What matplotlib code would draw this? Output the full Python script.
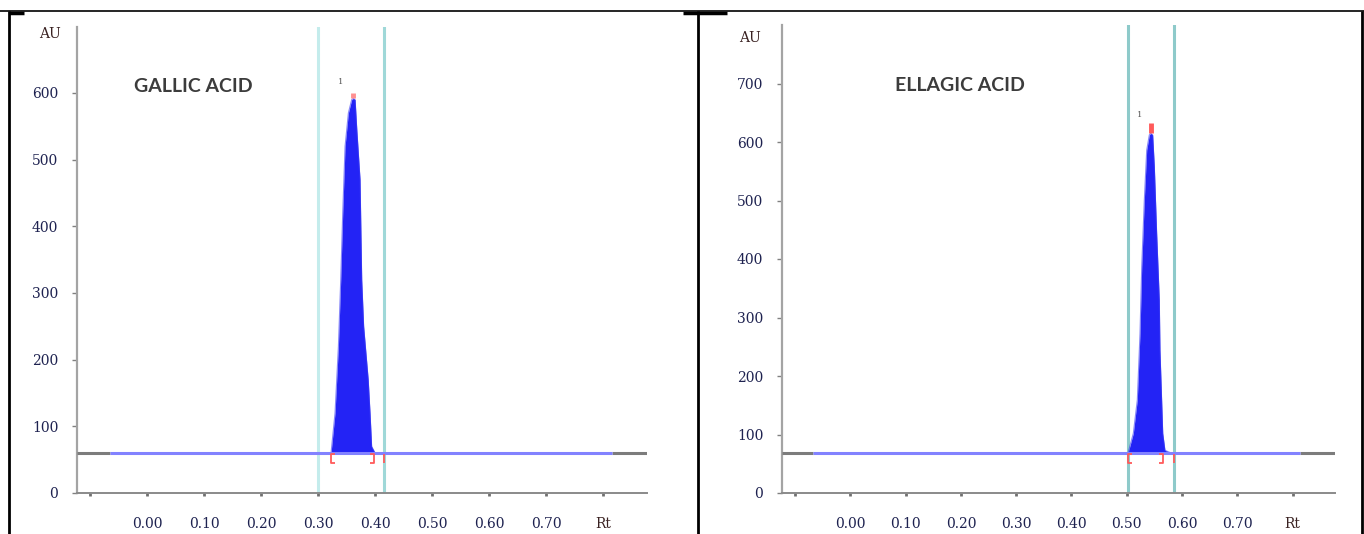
import matplotlib
matplotlib.use("Agg")
import matplotlib.pyplot as plt
from matplotlib.lines import Line2D
from matplotlib.path import Path
from matplotlib.markers import MarkerStyle

# ---------------- data ----------------
x_ticks = [-0.10, 0.00, 0.10, 0.20, 0.30, 0.40, 0.50, 0.60, 0.70, 0.80]
x_tick_labels = ["", "0.00", "0.10", "0.20", "0.30", "0.40", "0.50", "0.60", "0.70", "Rt"]

# Gallic acid
gallic_title = "GALLIC ACID"
gallic_yticks = [0, 100, 200, 300, 400, 500, 600]
gallic_baseline = 60
gallic_baseline_range = [-0.065, 0.816]
gallic_window = [0.300, 0.416]
gallic_rt = [0.3228, 0.3298, 0.3357, 0.3398, 0.3433, 0.3474, 0.3532, 0.3590,
             0.3620, 0.3650, 0.3680, 0.3737, 0.3766, 0.3800, 0.3880, 0.3912, 0.3940, 0.4000]
gallic_au = [60, 120, 220, 320, 420, 520, 570, 590,
             592, 590, 545, 470, 320, 250, 170, 120, 70, 60]
gallic_peak_top = [0.362, 592, 600]
gallic_peak_bounds = [0.3228, 0.398]

# Ellagic acid
ellagic_title = "ELLAGIC ACID"
ellagic_yticks = [0, 100, 200, 300, 400, 500, 600, 700]
ellagic_baseline = 68
ellagic_baseline_range = [-0.068, 0.813]
ellagic_window = [0.502, 0.585]
ellagic_rt = [0.5027, 0.5118, 0.5190, 0.5239, 0.5270, 0.5317, 0.5360, 0.5407,
              0.5432, 0.5468, 0.5498, 0.5540, 0.5588, 0.5600, 0.5630, 0.5650, 0.5690, 0.5810]
ellagic_au = [70, 102, 159, 273, 387, 501, 586, 612,
              615, 612, 558, 444, 330, 244, 159, 102, 73, 68]
ellagic_peak_top = [0.5432, 615, 632]
ellagic_peak_bounds = [0.5027, 0.566]

# ---------------- style ----------------
W, H = 1364, 534
fig = plt.figure(figsize=(W / 100, H / 100), dpi=100)

serif = ["DejaVu Serif"]
num_color = "#1e2250"
lab_color = "#3a2222"

bracket_l = MarkerStyle(Path([(0.45, -0.15), (0.0, -0.15), (0.0, -1.0), (0.45, -1.0)]))
bracket_r = MarkerStyle(Path([(-0.45, -0.15), (0.0, -0.15), (0.0, -1.0), (-0.45, -1.0)]))
bar_m = MarkerStyle(Path([(0.0, -0.1), (0.0, -1.0)]))


def panel(rect, xlim, ylim, yticks, baseline, brange, window, rt, au, top, bounds,
          title, title_pos, num_pos, win_colors, tip_color):
    ax = fig.add_axes(rect)
    ax.set_xlim(*xlim)
    ax.set_ylim(*ylim)
    for s in ["top", "right"]:
        ax.spines[s].set_visible(False)
    ax.spines["left"].set_color("#a4a4a4")
    ax.spines["left"].set_linewidth(1.6)
    ax.spines["bottom"].set_color("#8a8a8a")
    ax.spines["bottom"].set_linewidth(1.4)

    ax.set_yticks(yticks)
    ax.set_yticklabels([str(v) for v in yticks])
    ax.tick_params(axis="y", direction="out", length=3.5, width=1.0, color="#808080",
                   pad=10, labelsize=10, labelcolor=num_color)
    ax.set_xticks(x_ticks)
    ax.set_xticklabels(x_tick_labels)
    ax.tick_params(axis="x", direction="out", length=2.5, width=2.0, color="#707070",
                   pad=15, labelsize=10, labelcolor=num_color)
    for t in ax.get_xticklabels() + ax.get_yticklabels():
        t.set_fontfamily(serif)
    ax.get_xticklabels()[-1].set_color(lab_color)

    # integration window lines
    ax.axvline(window[0], color=win_colors[0], lw=2.2, zorder=1)
    ax.axvline(window[1], color=win_colors[1], lw=2.2, zorder=1)

    # baseline
    ax.plot([xlim[0], brange[0]], [baseline, baseline], color="#7c7c7c", lw=2.2, zorder=3,
            solid_capstyle="butt")
    ax.plot([brange[1], xlim[1]], [baseline, baseline], color="#7c7c7c", lw=2.2, zorder=3,
            solid_capstyle="butt")
    # peak
    ax.fill_between(rt, baseline, au, color="#2323f5", lw=0, zorder=2)
    ax.plot(rt, au, color="#3b3bf5", lw=0.8, alpha=0.6, zorder=2)
    ax.plot(brange, [baseline, baseline], color="#8282ff", lw=2.2, zorder=4,
            solid_capstyle="butt")
    # peak tip
    ax.plot([top[0], top[0]], [top[1], top[2]], color=tip_color, lw=3.5, zorder=5,
            solid_capstyle="butt")
    # boundary markers
    for xb, mk in ((bounds[0], bracket_l), (bounds[1], bracket_r), (window[1], bar_m)):
        ax.plot([xb], [baseline], marker=mk, ms=14, mew=1.3, mec="#ff5a5a",
                mfc="none", zorder=5, linestyle="none")

    ax.text(num_pos[0], num_pos[1], "1", fontsize=6, color="#555555",
            ha="center", va="center", family=serif)
    ax.text(title_pos[0], title_pos[1], title, transform=ax.transAxes,
            ha="center", va="center", fontsize=14, fontweight="bold",
            color="#3c3c3c", family=["Lato", "DejaVu Sans"])
    return ax


# left panel
l0, r0, b0, t0 = 77, 647, 493, 27
panel([l0 / W, (H - b0) / H, (r0 - l0) / W, (b0 - t0) / H],
      (-0.1228, 0.877), (0, 699), gallic_yticks, gallic_baseline,
      gallic_baseline_range, gallic_window, gallic_rt, gallic_au,
      gallic_peak_top, gallic_peak_bounds, gallic_title, (0.2035, 0.873),
      (0.340, 617), ("#c4ecec", "#9fd8d8"), "#ff9090")

# right panel
l1, r1, b1, t1 = 782, 1335, 493, 25
panel([l1 / W, (H - b1) / H, (r1 - l1) / W, (b1 - t1) / H],
      (-0.1235, 0.8765), (0, 800), ellagic_yticks, ellagic_baseline,
      ellagic_baseline_range, ellagic_window, ellagic_rt, ellagic_au,
      ellagic_peak_top, ellagic_peak_bounds, ellagic_title, (0.322, 0.870),
      (0.524, 646), ("#8ecaca", "#8ecaca"), "#ff5a5a")

# axis captions
fig.text(50 / W, 1 - 34 / H, "AU", ha="center", va="center", fontsize=10,
         color=lab_color, family=serif)
fig.text(750 / W, 1 - 38 / H, "AU", ha="center", va="center", fontsize=10,
         color=lab_color, family=serif)

# frame lines (document table borders)
def fline(xs, ys, lw):
    fig.add_artist(Line2D([x / W for x in xs], [1 - y / H for y in ys],
                          transform=fig.transFigure, color="black", lw=lw,
                          solid_capstyle="butt"))

fline([0, W], [11, 11], 1.2)
fline([9, 9], [11, H], 2.0)
fline([698, 698], [11, H], 2.0)
fline([1362, 1362], [11, H], 2.0)
fline([9, 24], [12.5, 12.5], 2.5)
fline([683, 727], [12.5, 12.5], 2.5)

fig.savefig("out.png", dpi=100)
